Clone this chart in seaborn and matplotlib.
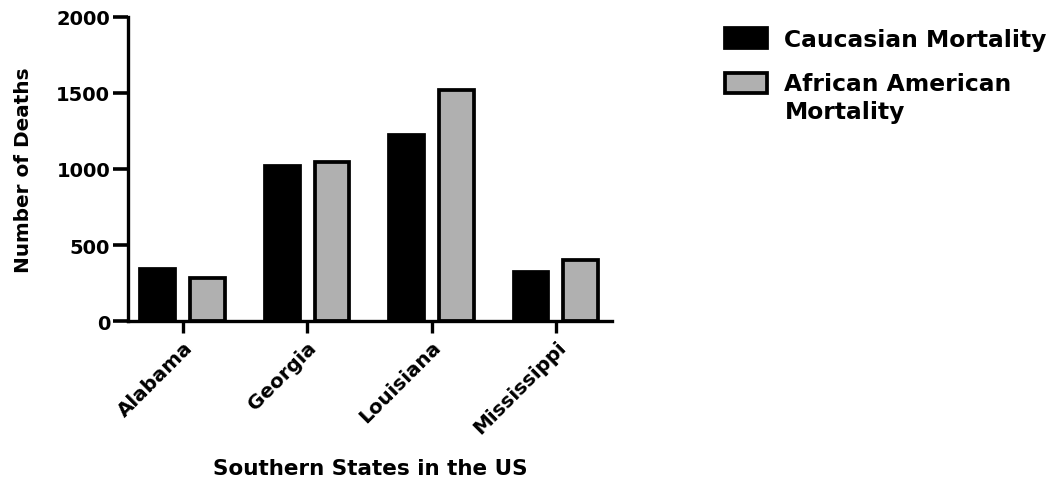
import matplotlib
matplotlib.use("Agg")
import matplotlib.pyplot as plt
import seaborn as sns
import pandas as pd

states = ["Alabama", "Georgia", "Louisiana", "Mississippi"]
caucasian = [339, 1017, 1226, 324]
african_american = [285, 1046, 1517, 401]
series_names = ["Caucasian Mortality", "African American Mortality"]
legend_labels = ["Caucasian Mortality", "African American\nMortality"]
y_ticks = [0, 500, 1000, 1500, 2000]

df = pd.DataFrame({
    "State": states * 2,
    "Deaths": caucasian + african_american,
    "Group": [series_names[0]] * len(states) + [series_names[1]] * len(states),
})

sns.set_theme(style="ticks")
plt.rcParams["font.family"] = ["DejaVu Sans"]
plt.rcParams["font.weight"] = "bold"
plt.rcParams["text.color"] = "black"
plt.rcParams["axes.labelcolor"] = "black"

DPI = 100
fig = plt.figure(figsize=(10.53, 4.85), dpi=DPI)
ax = fig.add_axes([0.1216, 0.336, 0.4595, 0.627])

sns.barplot(data=df, x="State", y="Deaths", hue="Group", order=states,
            hue_order=series_names, palette=["#000000", "#b0b0b0"],
            width=0.8, gap=0.3, edgecolor="black", linewidth=2.7,
            saturation=1, ax=ax, legend=True)

ax.set_ylim(0, 2000)
ax.set_xlim(-0.44, 3.45)
ax.set_yticks(y_ticks)
ax.set_yticklabels([str(v) for v in y_ticks], fontsize=14, fontweight="bold")
ax.set_xticks(range(len(states)))
ax.set_xticklabels(states, rotation=45, ha="right", rotation_mode="anchor",
                   fontsize=14.3, fontweight="bold")
ax.set_ylabel("Number of Deaths", fontsize=14.4, fontweight="bold", labelpad=17)
ax.set_xlabel("Southern States in the US", fontsize=15.5, fontweight="bold", labelpad=15)

for s in ["top", "right"]:
    ax.spines[s].set_visible(False)
for s in ["left", "bottom"]:
    ax.spines[s].set_linewidth(2.4)
    ax.spines[s].set_color("black")
ax.tick_params(axis="y", width=2.6, length=10.8, color="black", labelcolor="black", pad=2)
ax.tick_params(axis="x", width=2.4, length=8.6, color="black", labelcolor="black", pad=3)

handles, _ = ax.get_legend_handles_labels()
ax.get_legend().remove()
leg = fig.legend(handles, legend_labels, loc="upper left",
                 bbox_to_anchor=(725 / 1053, 1 - 29 / 485),
                 frameon=False, prop={"size": 16.8, "weight": "bold"},
                 handlelength=1.8, handleheight=0.9, handletextpad=0.75,
                 labelspacing=0.88, borderpad=0, borderaxespad=0)
for t in leg.get_texts():
    t.set_linespacing(1.32)

# align the second handle with the first line of its two-line label
fig.canvas.draw()
r = fig.canvas.get_renderer()
t0, t1 = leg.get_texts()
p1 = leg.get_patches()[1]
line_h = t0.get_window_extent(r).height
tb = t1.get_window_extent(r)
pb = p1.get_window_extent(r)
target_center = tb.y1 - line_h / 2
dy_px = target_center - (pb.y0 + pb.y1) / 2
p1.set_y(p1.get_y() + dy_px * 72 / DPI)

fig.savefig("out.png", dpi=DPI)
